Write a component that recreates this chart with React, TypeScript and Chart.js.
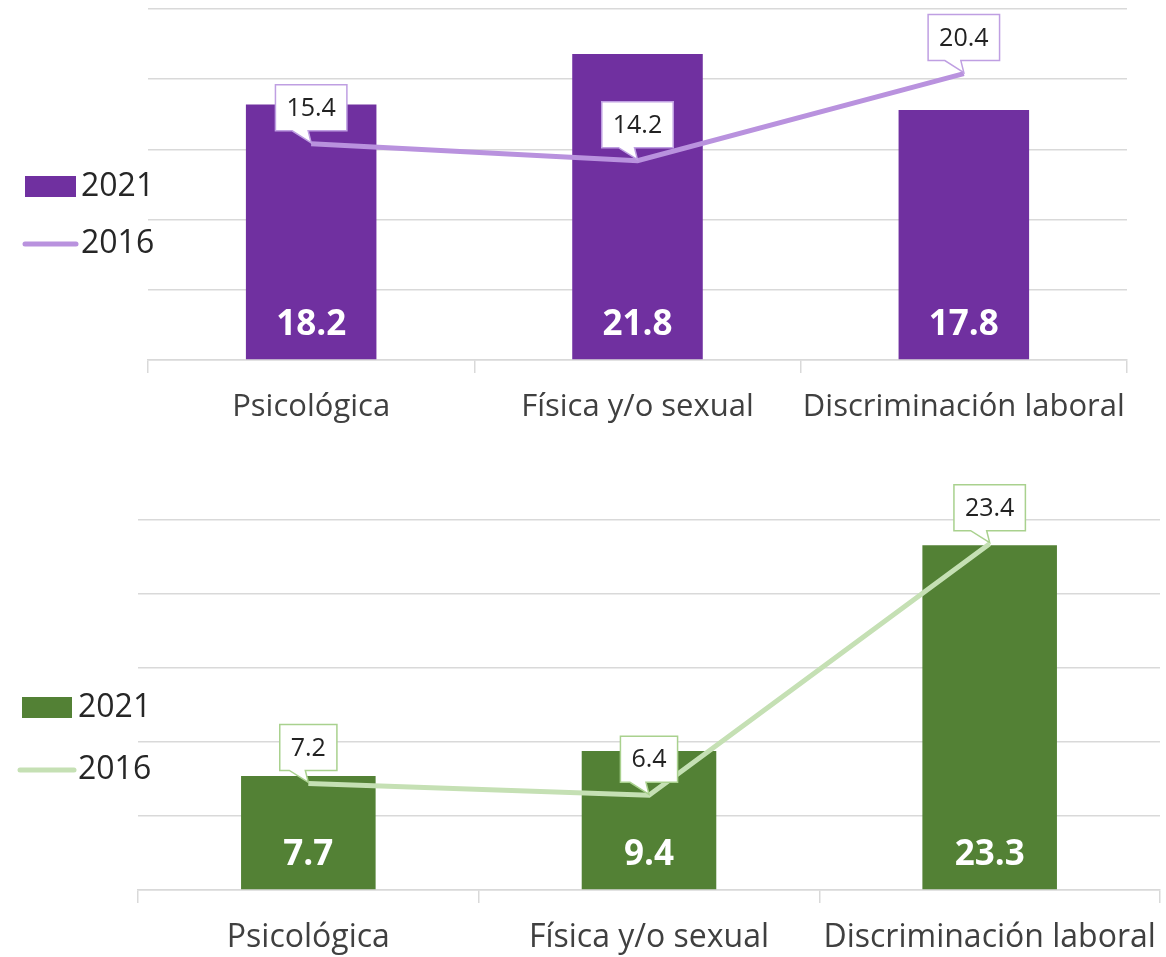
import React, { useEffect, useRef } from "react";
import { Chart, registerables } from "chart.js";

Chart.register(...registerables);

// ---------- data ----------
const categories = ["Psicológica", "Física y/o sexual", "Discriminación laboral"];
const seriesLabels = ["2021", "2016"];
const topBars2021 = [18.2, 21.8, 17.8];
const topLine2016 = [15.4, 14.2, 20.4];
const bottomBars2021 = [7.7, 9.4, 23.3];
const bottomLine2016 = [7.2, 6.4, 23.4];
const axisMin = 0;
const axisMax = 25;
const axisStep = 5;

const FONT = '"Open Sans", "Noto Sans", sans-serif';

type Params = {
  bars: number[];
  line: number[];
  barColor: string;
  lineColor: string;
  calloutBorder: string;
  padding: { left: number; right: number; top: number; bottom: number };
  xHeight: number;
  barPct: number;
  tickSize: number;
  legend: {
    rectX: number; rectY: number; rectW: number; rectH: number;
    lineX1: number; lineX2: number; lineY: number;
    textX: number; text1Y: number; text2Y: number;
  };
};

function makeOverlay(p: Params) {
  return {
    id: "overlay",
    afterDatasetsDraw(chart: any) {
      const ctx = chart.ctx as CanvasRenderingContext2D;
      const yScale = chart.scales.y;
      const base = yScale.getPixelForValue(0);
      // bar values
      const barMeta = chart.getDatasetMeta(1);
      ctx.save();
      ctx.font = `bold 35px ${FONT}`;
      ctx.fillStyle = "#ffffff";
      ctx.textAlign = "center";
      ctx.textBaseline = "middle";
      barMeta.data.forEach((el: any, i: number) => {
        ctx.fillText(p.bars[i].toFixed(1), el.x, base - 35);
      });
      ctx.restore();

      // callouts for line
      const lineMeta = chart.getDatasetMeta(0);
      ctx.save();
      ctx.font = `25px ${FONT}`;
      lineMeta.data.forEach((el: any, i: number) => {
        const txt = p.line[i].toFixed(1);
        const w = ctx.measureText(txt).width + 22;
        const h = 46;
        const x = el.x;
        const y = el.y;
        const bottom = y - 13;
        const top = bottom - h;
        const left = x - w / 2;
        const right = x + w / 2;
        ctx.beginPath();
        ctx.moveTo(left, top);
        ctx.lineTo(right, top);
        ctx.lineTo(right, bottom);
        ctx.lineTo(x - 3, bottom);
        ctx.lineTo(x, y - 1);
        ctx.lineTo(x - 19, bottom);
        ctx.lineTo(left, bottom);
        ctx.closePath();
        ctx.fillStyle = "#ffffff";
        ctx.fill();
        ctx.lineWidth = 1.5;
        ctx.strokeStyle = p.calloutBorder;
        ctx.stroke();
        ctx.fillStyle = "#222222";
        ctx.textAlign = "center";
        ctx.textBaseline = "middle";
        ctx.fillText(txt, x, (top + bottom) / 2 + 1);
      });
      ctx.restore();
    },
    afterDraw(chart: any) {
      const ctx = chart.ctx as CanvasRenderingContext2D;
      const L = p.legend;
      ctx.save();
      ctx.fillStyle = p.barColor;
      ctx.fillRect(L.rectX, L.rectY, L.rectW, L.rectH);
      ctx.strokeStyle = p.lineColor;
      ctx.lineWidth = 5;
      ctx.lineCap = "round";
      ctx.beginPath();
      ctx.moveTo(L.lineX1, L.lineY);
      ctx.lineTo(L.lineX2, L.lineY);
      ctx.stroke();
      ctx.font = `32px ${FONT}`;
      ctx.fillStyle = "#262626";
      ctx.textAlign = "left";
      ctx.textBaseline = "middle";
      ctx.fillText(seriesLabels[0], L.textX, L.text1Y);
      ctx.fillText(seriesLabels[1], L.textX, L.text2Y);
      ctx.restore();
    },
  };
}

function makeConfig(p: Params): any {
  return {
    type: "bar",
    data: {
      labels: categories,
      datasets: [
        {
          type: "line",
          label: seriesLabels[1],
          data: p.line,
          borderColor: p.lineColor,
          borderWidth: 5,
          pointRadius: 0,
          tension: 0,
          order: 0,
        },
        {
          type: "bar",
          label: seriesLabels[0],
          data: p.bars,
          backgroundColor: p.barColor,
          borderWidth: 0,
          categoryPercentage: 1,
          barPercentage: p.barPct,
          order: 1,
        },
      ],
    },
    options: {
      responsive: false,
      animation: false,
      devicePixelRatio: 1,
      layout: { padding: p.padding },
      plugins: { legend: { display: false }, tooltip: { enabled: false }, title: { display: false } },
      scales: {
        x: {
          grid: {
            offset: true,
            drawOnChartArea: false,
            drawTicks: true,
            tickLength: 13,
            color: "#d9d9d9",
            lineWidth: 1.5,
          },
          border: { display: true, color: "#d9d9d9", width: 1.5 },
          ticks: {
            font: { family: FONT, size: p.tickSize },
            color: "#404040",
            padding: 16,
            maxRotation: 0,
            autoSkip: false,
          },
          afterFit: (s: any) => {
            s.height = p.xHeight;
            s.paddingLeft = 0;
            s.paddingRight = 0;
          },
        },
        y: {
          min: axisMin,
          max: axisMax,
          ticks: { stepSize: axisStep, display: false },
          grid: { color: "#d9d9d9", drawTicks: false, lineWidth: 1.5 },
          border: { display: false },
          afterFit: (s: any) => {
            s.width = 0;
            s.paddingTop = 0;
            s.paddingBottom = 0;
          },
        },
      },
    },
    plugins: [makeOverlay(p)],
  };
}

const topParams: Params = {
  bars: topBars2021,
  line: topLine2016,
  barColor: "#7030a0",
  lineColor: "#b992de",
  calloutBorder: "#bf9fe2",
  padding: { left: 148, right: 39, top: 9, bottom: 0 },
  xHeight: 80,
  barPct: 0.4,
  tickSize: 31,
  legend: {
    rectX: 25, rectY: 176, rectW: 51, rectH: 21,
    lineX1: 25, lineX2: 76, lineY: 244,
    textX: 81, text1Y: 187, text2Y: 244,
  },
};

const bottomParams: Params = {
  bars: bottomBars2021,
  line: bottomLine2016,
  barColor: "#538135",
  lineColor: "#c5e0b4",
  calloutBorder: "#a9d18e",
  padding: { left: 138, right: 6, top: 80, bottom: 0 },
  xHeight: 67,
  barPct: 0.395,
  tickSize: 32,
  legend: {
    rectX: 22, rectY: 257, rectW: 50, rectH: 21,
    lineX1: 20, lineX2: 74, lineY: 330,
    textX: 78, text1Y: 268, text2Y: 330,
  },
};

function ChartCanvas({ params, top, height }: { params: Params; top: number; height: number }) {
  const ref = useRef<HTMLCanvasElement | null>(null);
  useEffect(() => {
    if (!ref.current) return;
    const chart = new Chart(ref.current, makeConfig(params));
    return () => chart.destroy();
  }, [params]);
  return (
    <canvas
      ref={ref}
      width={1166}
      height={height}
      style={{ position: "absolute", left: 0, top, width: 1166, height }}
    />
  );
}

export default function App() {
  return (
    <div
      style={{
        position: "absolute",
        left: 0,
        top: 0,
        width: 1166,
        height: 957,
        background: "#ffffff",
        overflow: "hidden",
      }}
    >
      <ChartCanvas params={topParams} top={0} height={440} />
      <ChartCanvas params={bottomParams} top={440} height={517} />
    </div>
  );
}
